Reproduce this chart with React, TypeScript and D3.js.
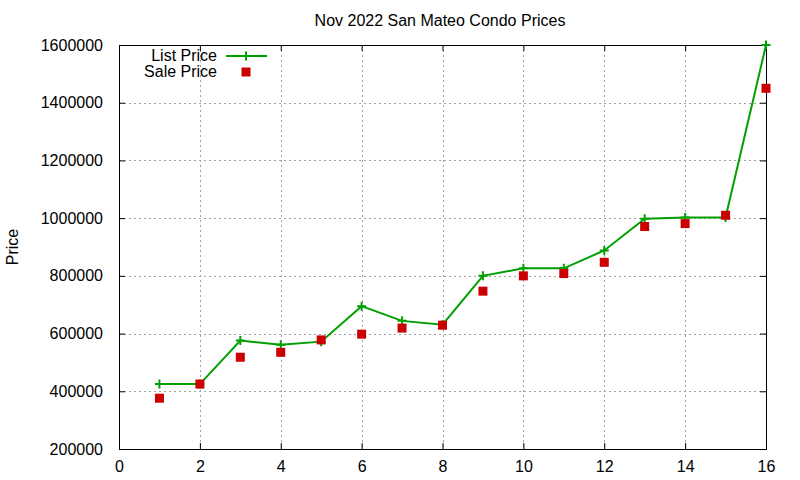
import { useEffect, useRef } from 'react'
import * as d3 from 'd3'

const xValues = [1, 2, 3, 4, 5, 6, 7, 8, 9, 10, 11, 12, 13, 14, 15, 16]
const listPrice = [425000, 425000, 576000, 561000, 572000, 695000, 644000, 631000, 800000, 826000, 826000, 888000, 998000, 1002000, 1002000, 1600000]
const salePrice = [376000, 425000, 518000, 535000, 578000, 598000, 619000, 629000, 747000, 800000, 808000, 847000, 971000, 981000, 1010000, 1450000]
const xTicks = [0, 2, 4, 6, 8, 10, 12, 14, 16]
const yTicks = [200000, 400000, 600000, 800000, 1000000, 1200000, 1400000, 1600000]

const FONT = '"Liberation Sans", Arial, sans-serif'
const GREEN = '#00a000'
const RED = '#cc0000'

export default function App() {
  const svgRef = useRef<SVGSVGElement>(null)

  useEffect(() => {
    if (!svgRef.current) return
    const W = 800
    const H = 480
    const margin = { top: 45, right: 34, bottom: 31, left: 119 }
    const width = W - margin.left - margin.right
    const height = H - margin.top - margin.bottom

    d3.select(svgRef.current).selectAll('*').remove()
    const root = d3.select(svgRef.current)
      .attr('width', W)
      .attr('height', H)
      .style('font-family', FONT)

    root.append('rect').attr('width', W).attr('height', H).attr('fill', '#fff')

    const svg = root.append('g')
      .attr('transform', `translate(${margin.left},${margin.top})`)

    const x = d3.scaleLinear().domain([0, 16]).range([0, width])
    const y = d3.scaleLinear().domain([200000, 1600000]).range([height, 0])

    // Grid
    const grid = svg.append('g')
      .attr('stroke', '#a0a0a0')
      .attr('stroke-width', 1)
      .attr('stroke-dasharray', '2,3')
    grid.selectAll('line.gx')
      .data(xTicks.slice(1, -1))
      .join('line')
      .attr('x1', d => Math.round(x(d)) + 0.5)
      .attr('x2', d => Math.round(x(d)) + 0.5)
      .attr('y1', 0)
      .attr('y2', height)
    grid.selectAll('line.gy')
      .data(yTicks.slice(1, -1))
      .enter()
      .append('line')
      .attr('x1', 0)
      .attr('x2', width)
      .attr('y1', d => Math.round(y(d)) + 0.5)
      .attr('y2', d => Math.round(y(d)) + 0.5)

    // Axes (gnuplot style: ticks inward, mirrored)
    const tickLen = 6
    const bottom = svg.append('g')
      .attr('transform', `translate(0,${height})`)
      .call(d3.axisBottom(x).tickValues(xTicks).tickSizeInner(-tickLen).tickSizeOuter(0).tickPadding(12))
    const top = svg.append('g')
      .call(d3.axisTop(x).tickValues(xTicks).tickSizeInner(-tickLen).tickSizeOuter(0).tickFormat(() => ''))
    const left = svg.append('g')
      .call(d3.axisLeft(y).tickValues(yTicks).tickSizeInner(-tickLen).tickSizeOuter(0).tickPadding(16).tickFormat(d3.format('d')))
    const right = svg.append('g')
      .attr('transform', `translate(${width},0)`)
      .call(d3.axisRight(y).tickValues(yTicks).tickSizeInner(-tickLen).tickSizeOuter(0).tickFormat(() => ''))

    for (const a of [bottom, top, left, right]) {
      a.select('.domain').remove()
      a.selectAll('.tick line').attr('stroke', '#000')
      a.selectAll('text')
        .attr('font-family', FONT)
        .attr('font-size', 16)
        .attr('fill', '#000')
    }

    svg.append('rect')
      .attr('x', 0.5)
      .attr('y', 0.5)
      .attr('width', width)
      .attr('height', height)
      .attr('fill', 'none')
      .attr('stroke', '#000')

    // List price line
    const line = d3.line<number>()
      .x((_, i) => x(xValues[i]))
      .y(d => y(d))
    svg.append('path')
      .datum(listPrice)
      .attr('d', line)
      .attr('fill', 'none')
      .attr('stroke', GREEN)
      .attr('stroke-width', 2)

    const cross = 4.5
    svg.append('g')
      .selectAll('path')
      .data(listPrice)
      .join('path')
      .attr('d', (d, i) => {
        const cx = x(xValues[i])
        const cy = y(d)
        return `M${cx - cross},${cy}H${cx + cross}M${cx},${cy - cross}V${cy + cross}`
      })
      .attr('stroke', GREEN)
      .attr('stroke-width', 2)

    // Sale price squares
    const sq = 9
    svg.append('g')
      .selectAll('rect')
      .data(salePrice)
      .join('rect')
      .attr('x', (_, i) => x(xValues[i]) - sq / 2)
      .attr('y', d => y(d) - sq / 2)
      .attr('width', sq)
      .attr('height', sq)
      .attr('fill', RED)

    // Title
    root.append('text')
      .attr('x', 440)
      .attr('y', 26)
      .attr('text-anchor', 'middle')
      .attr('font-size', 16)
      .attr('fill', '#000')
      .text('Nov 2022 San Mateo Condo Prices')

    // Y label
    root.append('text')
      .attr('transform', 'translate(18,247) rotate(-90)')
      .attr('text-anchor', 'middle')
      .attr('font-size', 16)
      .attr('fill', '#000')
      .text('Price')

    // Legend
    const legend = root.append('g')
    legend.append('text')
      .attr('x', 217)
      .attr('y', 61)
      .attr('text-anchor', 'end')
      .attr('font-size', 16)
      .text('List Price')
    legend.append('line')
      .attr('x1', 226).attr('x2', 267)
      .attr('y1', 56).attr('y2', 56)
      .attr('stroke', GREEN).attr('stroke-width', 2)
    legend.append('path')
      .attr('d', `M246,${56 - cross}V${56 + cross}`)
      .attr('stroke', GREEN).attr('stroke-width', 2)
    legend.append('text')
      .attr('x', 217)
      .attr('y', 77)
      .attr('text-anchor', 'end')
      .attr('font-size', 16)
      .text('Sale Price')
    legend.append('rect')
      .attr('x', 246 - sq / 2).attr('y', 72 - sq / 2)
      .attr('width', sq).attr('height', sq)
      .attr('fill', RED)
  }, [])

  return (
    <div style={{ position: 'fixed', left: 0, top: 0 }}>
      <svg ref={svgRef} style={{ display: 'block' }}></svg>
    </div>
  )
}
